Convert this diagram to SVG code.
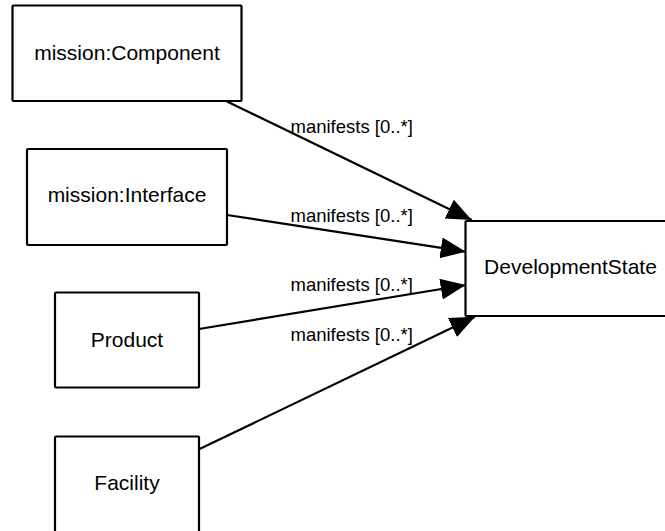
<svg xmlns="http://www.w3.org/2000/svg" width="665" height="531" viewBox="0 0 665 531">
<style>
  .box { fill: #ffffff; stroke: #000000; stroke-width: 2.2; }
  .ntext { font-family: "Liberation Sans", Arial, sans-serif; font-size: 21px; fill: #000000; text-anchor: middle; }
  .edge { fill: none; stroke: #000000; stroke-width: 2.2; marker-end: url(#arrow); }
  .elabel { font-family: "Liberation Sans", Arial, sans-serif; font-size: 18.5px; fill: #000000; }
</style>
<defs>
  <marker id="arrow" markerUnits="userSpaceOnUse" markerWidth="26" markerHeight="22" refX="25" refY="10.5" orient="auto" viewBox="0 0 26 22">
    <path d="M0,0 L25,10.5 L0,21 z" fill="#000000"/>
  </marker>
</defs>
<rect width="665" height="531" fill="#ffffff"/>
<g id="connectors">
  <line class="edge" x1="227" y1="101.5" x2="471.7" y2="220"/>
  <line class="edge" x1="227" y1="215" x2="465.7" y2="251.7"/>
  <line class="edge" x1="199" y1="329" x2="465.7" y2="285"/>
  <line class="edge" x1="199" y1="449.3" x2="475" y2="316.7"/>
  <text class="elabel" x="290.5" y="132.5">manifests [0..*]</text>
  <text class="elabel" x="290.5" y="221.5">manifests [0..*]</text>
  <text class="elabel" x="290.5" y="290.5">manifests [0..*]</text>
  <text class="elabel" x="290.5" y="340.5">manifests [0..*]</text>
</g>
<g id="node-component">
  <rect class="box" x="12.5" y="5.5" width="229" height="95.5" rx="1"/>
  <text class="ntext" x="127" y="60">mission:Component</text>
</g>
<g id="node-interface">
  <rect class="box" x="27" y="149" width="200" height="96" rx="1"/>
  <text class="ntext" x="127" y="202">mission:Interface</text>
</g>
<g id="node-product">
  <rect class="box" x="55" y="292.5" width="144" height="95" rx="1"/>
  <text class="ntext" x="127" y="347">Product</text>
</g>
<g id="node-facility">
  <rect class="box" x="55" y="436.5" width="144" height="96" rx="1"/>
  <text class="ntext" x="127" y="489.5">Facility</text>
</g>
<g id="node-developmentstate">
  <rect class="box" x="465.5" y="221" width="210" height="95" rx="1"/>
  <text class="ntext" x="570.5" y="274">DevelopmentState</text>
</g>
</svg>
